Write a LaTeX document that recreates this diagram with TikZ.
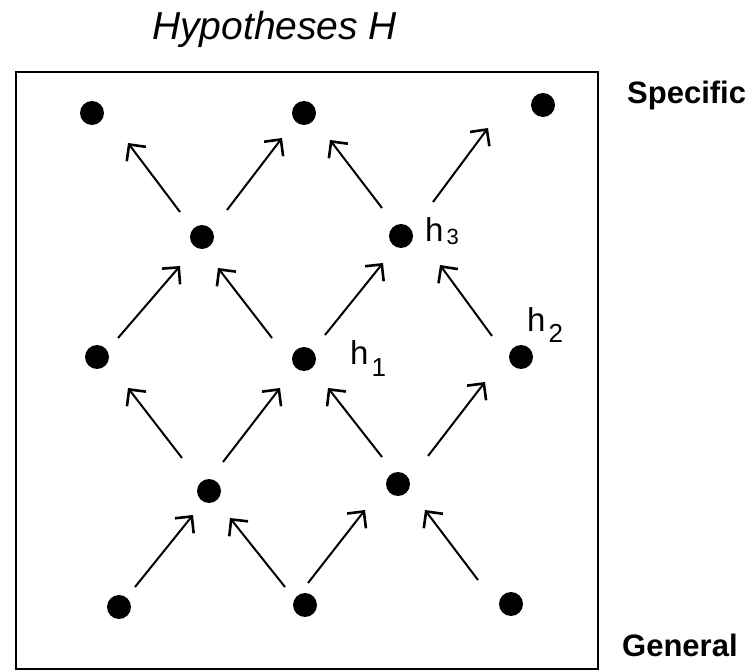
\documentclass[tikz,border=0pt]{standalone}
\usepackage{fontspec}
\setmainfont{Liberation Sans}
\usetikzlibrary{arrows.meta,calc}
\begin{document}
\begin{tikzpicture}[x=1pt,y=-1pt,
  dot/.style={circle,fill=black,inner sep=0pt,minimum size=24pt},
  arr/.style={line width=2pt,-{Straight Barb[length=12pt,width=24pt,line width=2.6pt]}},
  lbl/.style={anchor=base west,inner sep=0pt},
  side/.style={anchor=base west,inner sep=0pt,font=\fontsize{31}{31}\selectfont\bfseries},
  hbig/.style={font=\fontsize{33}{33}\selectfont}]
\useasboundingbox (0,0) rectangle (756,671);
% frame
\draw[line width=2pt] (15.5,72) rectangle (598,669);
% title and side labels
\node[lbl] (title) at (152,40) {\fontsize{39}{39}\selectfont\itshape Hypotheses H};
\node[side] (spec) at (627,104) {Specific};
\node[side] (gen) at (622,656) {General};
% dots
\node[dot] (A1) at (119,607) {};
\node[dot] (A2) at (305,605) {};
\node[dot] (A3) at (511,604) {};
\node[dot] (B1) at (209,491) {};
\node[dot] (B2) at (398,484) {};
\node[dot] (C1) at (97,357) {};
\node[dot] (C2) at (304,359) {};
\node[dot] (C3) at (521,357) {};
\node[dot] (D1) at (202,237) {};
\node[dot] (D2) at (401,236) {};
\node[dot] (E1) at (92,113) {};
\node[dot] (E2) at (304,113) {};
\node[dot] (E3) at (543,105) {};
% hypothesis labels
\node[lbl,hbig] (h3) at (425,242) {h\kern3pt\raisebox{-3pt}{\fontsize{22}{22}\selectfont 3}};
\node[lbl,hbig] (h2) at (527,332) {h\kern3pt\raisebox{-11pt}{\fontsize{26}{26}\selectfont 2}};
\node[lbl,hbig] (h1) at (350,365) {h\kern3pt\raisebox{-12pt}{\fontsize{26}{26}\selectfont 1}};
% arrows (general -> specific)
\draw[arr] ($(A1)+(16,-20)$) -- ($(B1)+(-16,24)$);
\draw[arr] ($(A2)+(-20,-18)$) -- ($(B1)+(21,27)$);
\draw[arr] ($(A2)+(3,-22)$) -- ($(B2)+(-33,26)$);
\draw[arr] ($(A3)+(-33,-24)$) -- ($(B2)+(27,26)$);
\draw[arr] ($(B1)+(-27,-33)$) -- ($(C1)+(31,31)$);
\draw[arr] ($(B1)+(14,-29)$) -- ($(C2)+(-24,29)$);
\draw[arr] ($(B2)+(-16,-27)$) -- ($(C2)+(24,29)$);
\draw[arr] ($(B2)+(30,-28)$) -- ($(C3)+(-36,25)$);
\draw[arr] ($(C1)+(21,-19)$) -- ($(D1)+(-22,29)$);
\draw[arr] ($(C2)+(-32,-21)$) -- ($(D1)+(16,31)$);
\draw[arr] ($(C2)+(21,-24)$) -- ($(D2)+(-18,27)$);
\draw[arr] ($(C3)+(-29,-21)$) -- ($(D2)+(39,29)$);
\draw[arr] ($(D1)+(-22,-25)$) -- ($(E1)+(36,30)$);
\draw[arr] ($(D1)+(25,-27)$) -- ($(E2)+(-22,25)$);
\draw[arr] ($(D2)+(-19,-28)$) -- ($(E2)+(26,27)$);
\draw[arr] ($(D2)+(32,-34)$) -- ($(E3)+(-55,23)$);
\end{tikzpicture}
\end{document}
